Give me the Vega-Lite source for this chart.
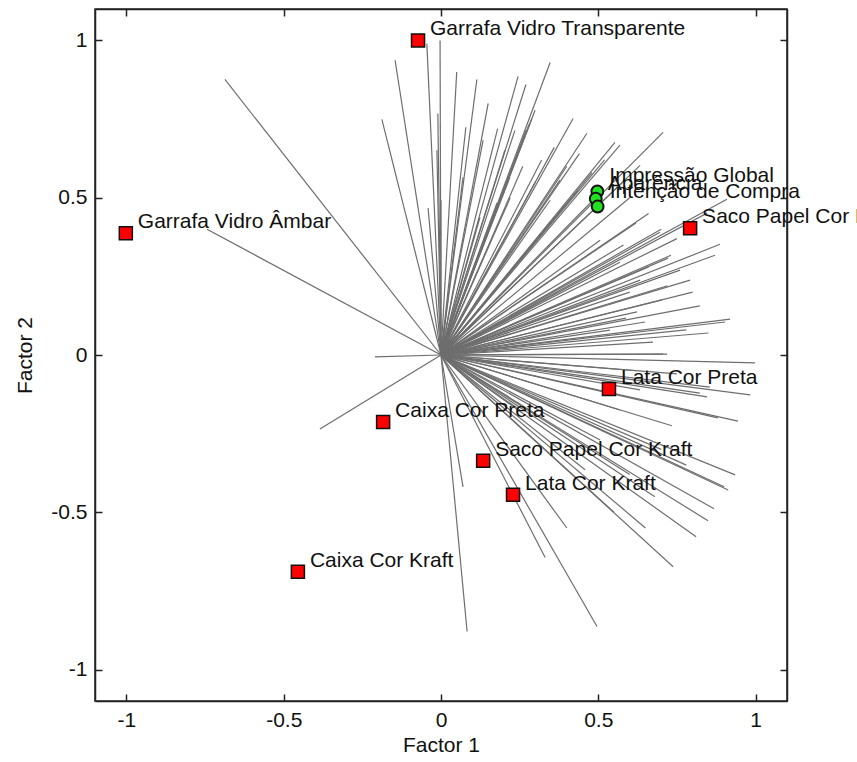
{
  "$schema": "https://vega.github.io/schema/vega-lite/v6.json",
  "autosize": {"type": "none"},
  "width": 692,
  "height": 692,
  "padding": {"left": 95, "top": 9, "right": 70, "bottom": 61},
  "background": "white",
  "config": {
    "view": {"stroke": "#222", "strokeWidth": 1.5},
    "font": "Liberation Sans",
    "axis": {
      "grid": false,
      "domainColor": "#222",
      "domainWidth": 1.5,
      "tickColor": "#222",
      "tickWidth": 1.5,
      "tickSize": -7,
      "labelPadding": 15,
      "labelFont": "Liberation Sans",
      "labelFontSize": 21,
      "labelColor": "#111",
      "titleFont": "Liberation Sans",
      "titleFontSize": 21,
      "titleFontWeight": "normal",
      "titleColor": "#111"
    }
  },
  "datasets": {
    "lines": [
      {"x": -0.687, "y": 0.876}, {"x": -0.744, "y": 0.400}, {"x": -0.210, "y": -0.006}, {"x": -0.385, "y": -0.235},
      {"x": -0.146, "y": 0.937}, {"x": -0.188, "y": 0.749}, {"x": -0.045, "y": 0.990}, {"x": -0.003, "y": 1.000},
      {"x": -0.041, "y": 0.467}, {"x": -0.010, "y": 0.768}, {"x": 0.000, "y": 0.492}, {"x": -0.013, "y": 0.651},
      {"x": 0.079, "y": 0.724}, {"x": 0.114, "y": 0.876}, {"x": 0.134, "y": 0.683}, {"x": 0.245, "y": 0.886},
      {"x": 0.270, "y": 0.860}, {"x": 0.347, "y": 0.930}, {"x": 0.299, "y": 0.778}, {"x": 0.289, "y": 0.752},
      {"x": 0.280, "y": 0.733}, {"x": 0.270, "y": 0.714}, {"x": 0.420, "y": 0.752}, {"x": 0.464, "y": 0.705},
      {"x": 0.553, "y": 0.676}, {"x": 0.569, "y": 0.667}, {"x": 0.706, "y": 0.708}, {"x": 0.633, "y": 0.603},
      {"x": 0.585, "y": 0.556}, {"x": 0.909, "y": 0.495}, {"x": 0.846, "y": 0.451}, {"x": 0.887, "y": 0.352},
      {"x": 0.871, "y": 0.317}, {"x": 0.731, "y": 0.317}, {"x": 0.722, "y": 0.308}, {"x": 0.703, "y": 0.175},
      {"x": 0.823, "y": 0.156}, {"x": 0.919, "y": 0.114}, {"x": 0.903, "y": 0.105}, {"x": 0.674, "y": 0.041},
      {"x": 0.719, "y": 0.003}, {"x": 0.998, "y": -0.025}, {"x": 0.855, "y": -0.102}, {"x": 0.983, "y": -0.127},
      {"x": 0.846, "y": -0.133}, {"x": 0.944, "y": -0.210}, {"x": 0.734, "y": -0.225}, {"x": 0.935, "y": -0.381},
      {"x": 0.913, "y": -0.429}, {"x": 0.900, "y": -0.419}, {"x": 0.868, "y": -0.489}, {"x": 0.849, "y": -0.527},
      {"x": 0.811, "y": -0.578}, {"x": 0.738, "y": -0.673}, {"x": 0.680, "y": -0.451}, {"x": 0.496, "y": -0.863},
      {"x": 0.331, "y": -0.644}, {"x": 0.083, "y": -0.879}, {"x": 0.070, "y": -0.419}, {"x": 0.070, "y": 0.565},
      {"x": 0.219, "y": 0.565}, {"x": 0.178, "y": 0.483}, {"x": 0.124, "y": 0.438}, {"x": 0.483, "y": 0.492},
      {"x": 0.436, "y": 0.524}, {"x": 0.394, "y": 0.476}, {"x": 0.378, "y": 0.556}, {"x": 0.347, "y": 0.492},
      {"x": 0.623, "y": 0.137}, {"x": 0.588, "y": 0.117}, {"x": 0.649, "y": 0.105}, {"x": 0.537, "y": 0.079},
      {"x": 0.823, "y": -0.121}, {"x": 0.706, "y": 0.003}, {"x": 0.633, "y": 0.238}, {"x": 0.569, "y": 0.295},
      {"x": 0.506, "y": 0.365}, {"x": 0.696, "y": 0.390}, {"x": 0.792, "y": 0.238}, {"x": 0.633, "y": -0.111},
      {"x": 0.569, "y": -0.175}, {"x": 0.506, "y": -0.270}, {"x": 0.458, "y": -0.365}, {"x": 0.251, "y": -0.175},
      {"x": 0.203, "y": 0.651}, {"x": 0.235, "y": 0.714},
      {"x": 0.52, "y": 0.62}, {"x": 0.48, "y": 0.58}, {"x": 0.44, "y": 0.64}, {"x": 0.40, "y": 0.60},
      {"x": 0.36, "y": 0.66}, {"x": 0.32, "y": 0.62}, {"x": 0.30, "y": 0.55}, {"x": 0.26, "y": 0.60},
      {"x": 0.22, "y": 0.50}, {"x": 0.60, "y": 0.50}, {"x": 0.66, "y": 0.45}, {"x": 0.62, "y": 0.42},
      {"x": 0.70, "y": 0.40}, {"x": 0.75, "y": 0.37}, {"x": 0.58, "y": 0.35}, {"x": 0.66, "y": 0.28},
      {"x": 0.76, "y": 0.27}, {"x": 0.80, "y": 0.20}, {"x": 0.72, "y": 0.22}, {"x": 0.85, "y": 0.07},
      {"x": 0.60, "y": 0.20}, {"x": 0.78, "y": 0.08}, {"x": 0.62, "y": -0.05}, {"x": 0.75, "y": -0.06},
      {"x": 0.88, "y": -0.20}, {"x": 0.70, "y": -0.30}, {"x": 0.78, "y": -0.35}, {"x": 0.60, "y": -0.38},
      {"x": 0.65, "y": -0.55}, {"x": 0.55, "y": -0.50}, {"x": 0.40, "y": -0.55}, {"x": 0.15, "y": 0.80},
      {"x": 0.18, "y": 0.72}, {"x": 0.05, "y": 0.90}
    ],
    "prods": [
      {"x": -0.073, "y": 1.000, "label": "Garrafa Vidro Transparente"},
      {"x": -1.002, "y": 0.387, "label": "Garrafa Vidro Âmbar"},
      {"x": 0.792, "y": 0.403, "label": "Saco Papel Cor Preta"},
      {"x": 0.534, "y": -0.108, "label": "Lata Cor Preta"},
      {"x": -0.184, "y": -0.213, "label": "Caixa Cor Preta"},
      {"x": 0.134, "y": -0.336, "label": "Saco Papel Cor Kraft"},
      {"x": 0.229, "y": -0.444, "label": "Lata Cor Kraft"},
      {"x": -0.455, "y": -0.689, "label": "Caixa Cor Kraft"}
    ],
    "vars": [
      {"x": 0.497, "y": 0.520, "label": "Impressão Global"},
      {"x": 0.492, "y": 0.497, "label": "Aparência"},
      {"x": 0.498, "y": 0.472, "label": "Intenção de Compra"}
    ]
  },
  "resolve": {"axis": {"x": "independent", "y": "independent"}},
  "layer": [
    {
      "data": {"name": "lines"},
      "mark": {"type": "rule", "color": "#6e6e6e", "strokeWidth": 1.2},
      "encoding": {
        "x": {"field": "x", "type": "quantitative", "scale": {"domain": [-1.1, 1.1], "nice": false, "zero": false},
              "axis": {"title": "Factor 1", "orient": "bottom", "values": [-1, -0.5, 0, 0.5, 1], "labelExpr": "'' + datum.value", "titlePadding": 4}},
        "y": {"field": "y", "type": "quantitative", "scale": {"domain": [-1.1, 1.1], "nice": false, "zero": false},
              "axis": {"title": "Factor 2", "orient": "left", "values": [-1, -0.5, 0, 0.5, 1], "labelExpr": "'' + datum.value", "titlePadding": 15}},
        "x2": {"datum": 0},
        "y2": {"datum": 0}
      }
    },
    {
      "data": {"name": "prods"},
      "mark": {"type": "square", "filled": true, "color": "#ff0000", "stroke": "#111", "strokeWidth": 1.5, "size": 170, "opacity": 1},
      "encoding": {
        "x": {"field": "x", "type": "quantitative", "scale": {"domain": [-1.1, 1.1], "nice": false, "zero": false},
              "axis": {"title": null, "orient": "top", "values": [-1, -0.5, 0, 0.5, 1], "labels": false}},
        "y": {"field": "y", "type": "quantitative", "scale": {"domain": [-1.1, 1.1], "nice": false, "zero": false},
              "axis": {"title": null, "orient": "right", "values": [-1, -0.5, 0, 0.5, 1], "labels": false}}
      }
    },
    {
      "data": {"name": "prods"},
      "mark": {"type": "text", "align": "left", "baseline": "middle", "dx": 12, "dy": -11, "fontSize": 21, "font": "Liberation Sans", "color": "#111"},
      "encoding": {
        "x": {"field": "x", "type": "quantitative", "scale": {"domain": [-1.1, 1.1], "nice": false, "zero": false}, "axis": null},
        "y": {"field": "y", "type": "quantitative", "scale": {"domain": [-1.1, 1.1], "nice": false, "zero": false}, "axis": null},
        "text": {"field": "label"}
      }
    },
    {
      "data": {"name": "vars"},
      "mark": {"type": "circle", "color": "#22e022", "stroke": "#111", "strokeWidth": 2, "size": 140, "opacity": 1},
      "encoding": {
        "x": {"field": "x", "type": "quantitative", "scale": {"domain": [-1.1, 1.1], "nice": false, "zero": false}, "axis": null},
        "y": {"field": "y", "type": "quantitative", "scale": {"domain": [-1.1, 1.1], "nice": false, "zero": false}, "axis": null}
      }
    },
    {
      "data": {"name": "vars"},
      "mark": {"type": "text", "align": "left", "baseline": "middle", "dx": 12, "dy": -15, "fontSize": 21, "font": "Liberation Sans", "color": "#111"},
      "encoding": {
        "x": {"field": "x", "type": "quantitative", "scale": {"domain": [-1.1, 1.1], "nice": false, "zero": false}, "axis": null},
        "y": {"field": "y", "type": "quantitative", "scale": {"domain": [-1.1, 1.1], "nice": false, "zero": false}, "axis": null},
        "text": {"field": "label"}
      }
    }
  ]
}
